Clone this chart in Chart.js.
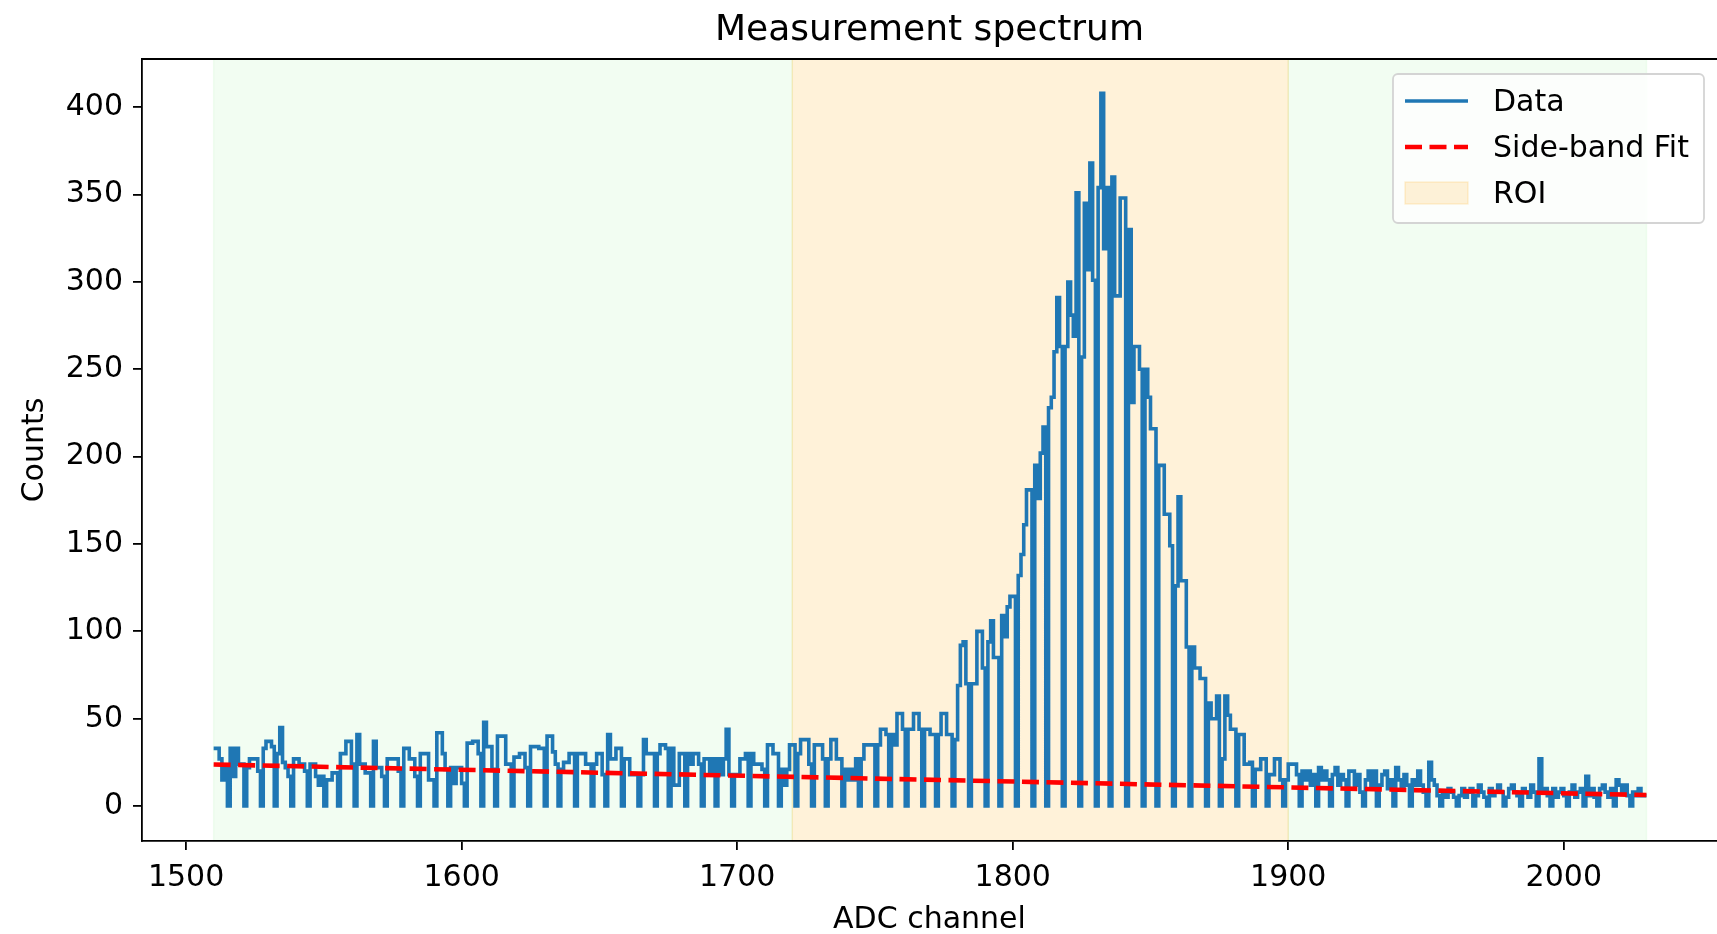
<!DOCTYPE html>
<html>
<head>
<meta charset="utf-8">
<title>Measurement spectrum</title>
<script src="https://cdn.jsdelivr.net/npm/chart.js@4.4.1/dist/chart.umd.min.js"></script>
<style>
  html, body { margin: 0; padding: 0; background: #ffffff; }
  canvas { display: block; }
</style>
</head>
<body>
<canvas id="myChart" width="1717" height="934"></canvas>
<script>
// counts per ADC channel, one value per channel starting at firstChannel
const firstChannel = 1510;
const counts = [
    33, 33, 27, 15, 22, 0, 33, 17, 33, 24,        // 1510
    24, 0, 22, 27, 27, 27, 20, 0, 33, 37,         // 1520
    37, 34, 0, 30, 45, 25, 22, 17, 0, 27,         // 1530
    27, 24, 24, 20, 0, 24, 24, 17, 12, 17,        // 1540
    0, 15, 15, 19, 19, 0, 30, 30, 37, 37,         // 1550
    24, 0, 41, 24, 24, 19, 19, 0, 37, 22,         // 1560
    22, 17, 0, 27, 27, 27, 27, 20, 0, 33,         // 1570
    33, 27, 27, 17, 0, 30, 30, 30, 15, 15,        // 1580
    0, 42, 42, 30, 21, 0, 22, 13, 22, 22,         // 1590
    13, 0, 36, 36, 37, 37, 30, 0, 48, 34,         // 1600
    34, 21, 0, 40, 40, 40, 24, 24, 0, 28,         // 1610
    28, 30, 30, 22, 0, 34, 34, 34, 33, 33,        // 1620
    0, 40, 40, 31, 24, 0, 21, 25, 25, 30,         // 1630
    30, 0, 30, 30, 30, 24, 24, 0, 24, 30,         // 1640
    30, 18, 0, 41, 27, 27, 33, 33, 0, 27,         // 1650
    27, 18, 18, 18, 0, 18, 38, 30, 30, 30,        // 1660
    0, 30, 35, 35, 33, 0, 33, 12, 12, 30,         // 1670
    30, 0, 30, 24, 30, 30, 24, 0, 27, 27,         // 1680
    18, 27, 0, 27, 18, 27, 44, 18, 0, 18,         // 1690
    18, 27, 27, 30, 0, 30, 24, 24, 24, 21,        // 1700
    0, 35, 35, 30, 30, 0, 21, 12, 21, 35,         // 1710
    35, 0, 30, 38, 38, 38, 24, 0, 35, 35,         // 1720
    35, 27, 0, 27, 38, 38, 27, 27, 0, 21,         // 1730
    15, 21, 15, 27, 0, 27, 35, 35, 35, 35,        // 1740
    0, 35, 44, 44, 41, 0, 41, 35, 53, 53,         // 1750
    44, 0, 44, 44, 53, 53, 44, 0, 44, 44,         // 1760
    41, 41, 0, 41, 53, 53, 41, 41, 0, 38,         // 1770
    69, 92, 94, 70, 0, 70, 70, 100, 100, 79,      // 1780
    0, 94, 106, 85, 85, 0, 109, 97, 114, 120,     // 1790
    120, 0, 132, 144, 161, 181, 181, 0, 195, 176, // 1800
    202, 217, 0, 228, 234, 260, 291, 263, 0, 263, // 1810
    300, 281, 269, 351, 0, 257, 345, 307, 368, 301, // 1820
    0, 354, 408, 319, 354, 0, 360, 292, 292, 348, // 1830
    348, 0, 330, 231, 263, 263, 250, 0, 250, 234, // 1840
    216, 216, 0, 195, 195, 167, 167, 149, 0, 126, // 1850
    177, 129, 129, 91, 0, 91, 79, 79, 73, 73,     // 1860
    0, 59, 50, 50, 63, 0, 27, 63, 52, 44,         // 1870
    44, 0, 41, 41, 24, 24, 25, 0, 21, 21,         // 1880
    27, 27, 0, 18, 18, 27, 27, 15, 0, 15,         // 1890
    24, 24, 24, 18, 0, 20, 15, 20, 12, 18,        // 1900
    0, 22, 15, 20, 15, 0, 18, 22, 12, 18,         // 1910
    15, 0, 20, 20, 12, 18, 8, 0, 15, 20,          // 1920
    12, 20, 0, 12, 18, 20, 10, 15, 0, 22,         // 1930
    15, 10, 18, 12, 0, 15, 12, 20, 12, 8,         // 1940
    0, 25, 15, 12, 6, 0, 8, 5, 10, 8,             // 1950
    5, 0, 6, 10, 5, 8, 10, 0, 6, 12,              // 1960
    8, 5, 0, 10, 6, 8, 12, 8, 0, 5,               // 1970
    10, 12, 8, 6, 0, 10, 8, 5, 12, 8,             // 1980
    0, 27, 8, 10, 6, 0, 10, 5, 8, 10,             // 1990
    6, 0, 8, 12, 5, 8, 10, 0, 17, 6,              // 2000
    10, 5, 0, 10, 12, 8, 5, 10, 0, 15,            // 2010
    12, 8, 12, 6, 0, 8, 6, 10, 6, 6               // 2020
];

// side-band fit end points
const fitChannels = [1510, 2030];
const fitCounts = [23.8, 6.3];

const sideBands = [[1510, 1720], [1900, 2030]];
const roiRange = [1720, 1900];

const xTicks = [1500, 1600, 1700, 1800, 1900, 2000];
const yTicks = [0, 50, 100, 150, 200, 250, 300, 350, 400];

const fontName = 'DejaVu Sans';

// step points: each bin [ch, ch+1) holds its count
const dataPoints = counts.map((c, i) => ({x: firstChannel + i, y: c}));
dataPoints.push({x: firstChannel + counts.length, y: counts[counts.length - 1]});
const fitPoints = fitChannels.map((c, i) => ({x: c, y: fitCounts[i]}));

const spanPlugin = {
    id: 'spans',
    beforeDraw(chart) {
        const {ctx, chartArea} = chart;
        const x = chart.scales.x;
        ctx.save();
        ctx.lineWidth = 1.5;
        function band(range, color) {
            const x0 = x.getPixelForValue(range[0]);
            const x1 = x.getPixelForValue(range[1]);
            ctx.fillStyle = color;
            ctx.strokeStyle = color;
            ctx.fillRect(x0, chartArea.top, x1 - x0, chartArea.bottom - chartArea.top);
            ctx.strokeRect(x0, chartArea.top, x1 - x0, chartArea.bottom - chartArea.top);
        }
        sideBands.forEach(r => band(r, 'rgba(144, 238, 144, 0.12)'));
        band(roiRange, 'rgba(255, 165, 0, 0.15)');
        ctx.restore();
    }
};

const framePlugin = {
    id: 'frame',
    afterDraw(chart) {
        const {ctx, chartArea} = chart;
        ctx.save();
        // top spine
        ctx.strokeStyle = '#000';
        ctx.lineWidth = 1.8;
        ctx.beginPath();
        ctx.moveTo(chartArea.left - 0.9, chartArea.top);
        ctx.lineTo(chartArea.right, chartArea.top);
        ctx.stroke();

        // legend
        const w = 311, h = 149;
        const left = chartArea.right - 13 - w;
        const top = chartArea.top + 15;
        ctx.beginPath();
        ctx.roundRect(left, top, w, h, 5);
        ctx.fillStyle = 'rgba(255, 255, 255, 0.8)';
        ctx.fill();
        ctx.strokeStyle = '#d4d4d4';
        ctx.lineWidth = 1.8;
        ctx.stroke();

        const ds = chart.data.datasets;
        const rowY = [top + 27, top + 73, top + 119];
        const hx0 = left + 12, hx1 = left + 75;

        ctx.lineCap = 'butt';
        // Data
        ctx.strokeStyle = ds[0].borderColor;
        ctx.lineWidth = ds[0].borderWidth;
        ctx.beginPath();
        ctx.moveTo(hx0, rowY[0]);
        ctx.lineTo(hx1, rowY[0]);
        ctx.stroke();
        // Fit
        ctx.strokeStyle = ds[1].borderColor;
        ctx.lineWidth = ds[1].borderWidth;
        ctx.setLineDash(ds[1].borderDash);
        ctx.beginPath();
        ctx.moveTo(hx0, rowY[1]);
        ctx.lineTo(hx1, rowY[1]);
        ctx.stroke();
        ctx.setLineDash([]);
        // ROI patch
        ctx.fillStyle = 'rgba(255, 165, 0, 0.15)';
        ctx.strokeStyle = 'rgba(255, 165, 0, 0.15)';
        ctx.lineWidth = 1.5;
        ctx.fillRect(hx0, rowY[2] - 11, hx1 - hx0, 22);
        ctx.strokeRect(hx0, rowY[2] - 11, hx1 - hx0, 22);

        ctx.fillStyle = '#000';
        ctx.font = '30px "' + fontName + '"';
        ctx.textBaseline = 'middle';
        ctx.textAlign = 'left';
        const labels = [ds[0].label, ds[1].label, 'ROI'];
        labels.forEach((t, i) => ctx.fillText(t, left + 100, rowY[i] + 2));
        ctx.restore();
    }
};

const ctx = document.getElementById('myChart').getContext('2d');

const myChart = new Chart(ctx, {
    type: 'line',
    data: {
        datasets: [{
            label: 'Data',
            data: dataPoints,
            borderColor: '#1f77b4',
            borderWidth: 3.6,
            pointRadius: 0,
            stepped: 'before',
            fill: false,
            order: 2
        }, {
            label: 'Side-band Fit',
            data: fitPoints,
            borderColor: '#ff0000',
            borderWidth: 4.6,
            borderDash: [17, 7.5],
            pointRadius: 0,
            fill: false,
            order: 1
        }]
    },
    options: {
        responsive: false,
        animation: false,
        devicePixelRatio: 1,
        events: [],
        layout: { padding: 0 },
        plugins: {
            legend: { display: false },
            tooltip: { enabled: false },
            title: {
                display: true,
                fullSize: false,
                text: 'Measurement spectrum',
                color: '#000',
                font: { family: fontName, size: 36, weight: 'normal', lineHeight: 1.2 },
                padding: { top: 9, bottom: 6.8 }
            }
        },
        scales: {
            x: {
                type: 'linear',
                min: 1484,
                max: 2055.6,
                afterBuildTicks(scale) {
                    scale.ticks = xTicks.map(v => ({value: v}));
                },
                afterFit(scale) {
                    scale.height = 93;
                },
                ticks: {
                    color: '#000',
                    font: { family: fontName, size: 30 },
                    padding: 10,
                    maxRotation: 0,
                    callback: v => String(v)
                },
                grid: {
                    drawOnChartArea: false,
                    drawTicks: true,
                    tickLength: 9,
                    color: '#000',
                    lineWidth: 1.8
                },
                border: { display: true, color: '#000', width: 1.8 },
                title: {
                    display: true,
                    text: 'ADC channel',
                    color: '#000',
                    font: { family: fontName, size: 30, lineHeight: 0.9 },
                    padding: { top: 0, bottom: 0 }
                }
            },
            y: {
                type: 'linear',
                min: -20,
                max: 427.6,
                afterBuildTicks(scale) {
                    scale.ticks = yTicks.map(v => ({value: v}));
                },
                afterFit(scale) {
                    scale.width = 142;
                },
                ticks: {
                    color: '#000',
                    font: { family: fontName, size: 30 },
                    padding: 10,
                    callback: v => String(v)
                },
                grid: {
                    drawOnChartArea: false,
                    drawTicks: true,
                    tickLength: 9,
                    color: '#000',
                    lineWidth: 1.8
                },
                border: { display: true, color: '#000', width: 1.8 },
                title: {
                    display: true,
                    text: 'Counts',
                    color: '#000',
                    font: { family: fontName, size: 30, lineHeight: 1.2 },
                    padding: { top: 17, bottom: 0 }
                }
            }
        }
    },
    plugins: [spanPlugin, framePlugin]
});
</script>
</body>
</html>
